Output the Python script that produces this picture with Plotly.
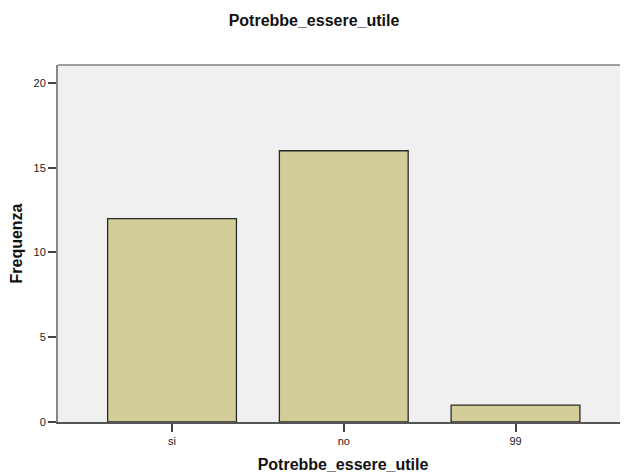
import plotly.graph_objects as go

categories = ["si", "no", "99"]
frequencies = [12, 16, 1]
y_ticks = [0, 5, 10, 15, 20]

W, H = 620, 467  # page body adds an 8px offset

fig = go.Figure()
fig.add_trace(go.Bar(
    x=categories, y=frequencies,
    marker=dict(color="#d3ce97", line=dict(color="#2a2a2a", width=1.3)),
    width=0.75,
))

font = "Liberation Sans, Arial, sans-serif"
fig.update_layout(
    width=W, height=H,
    margin=dict(l=50, r=0, t=57, b=53),
    paper_bgcolor="white", plot_bgcolor="#f0f0f0",
    showlegend=False,
    font=dict(family=font, size=11, color="#222222"),
    title=dict(text="<b>Potrebbe_essere_utile</b>", x=306 / W, xanchor="center",
               y=1 - 12 / H, yanchor="middle", font=dict(size=16, color="#111111")),
    xaxis=dict(
        type="category", range=[-0.664, 2.655],
        showgrid=False, zeroline=False,
        showline=True, linecolor="#555555", linewidth=1.5,
        ticks="outside", ticklen=8, tickcolor="#444444", tickwidth=1.5,
        tickfont=dict(size=11),
        title=dict(text="<b>Potrebbe_essere_utile</b>", font=dict(size=16, color="#111111"), standoff=13),
    ),
    yaxis=dict(
        range=[0, 21.06], tickvals=y_ticks,
        showgrid=False, zeroline=False,
        showline=True, linecolor="#888888", linewidth=2,
        ticks="outside", ticklen=8, tickcolor="#444444", tickwidth=1.5,
        tickfont=dict(size=11),
        title=dict(text="<b>Frequenza</b>", font=dict(size=16, color="#111111"), standoff=10),
    ),
    shapes=[dict(type="line", xref="paper", yref="paper", x0=0, x1=1, y0=1, y1=1,
                 line=dict(color="#a0a0a0", width=2))],
)

fig.write_html("out.html")
